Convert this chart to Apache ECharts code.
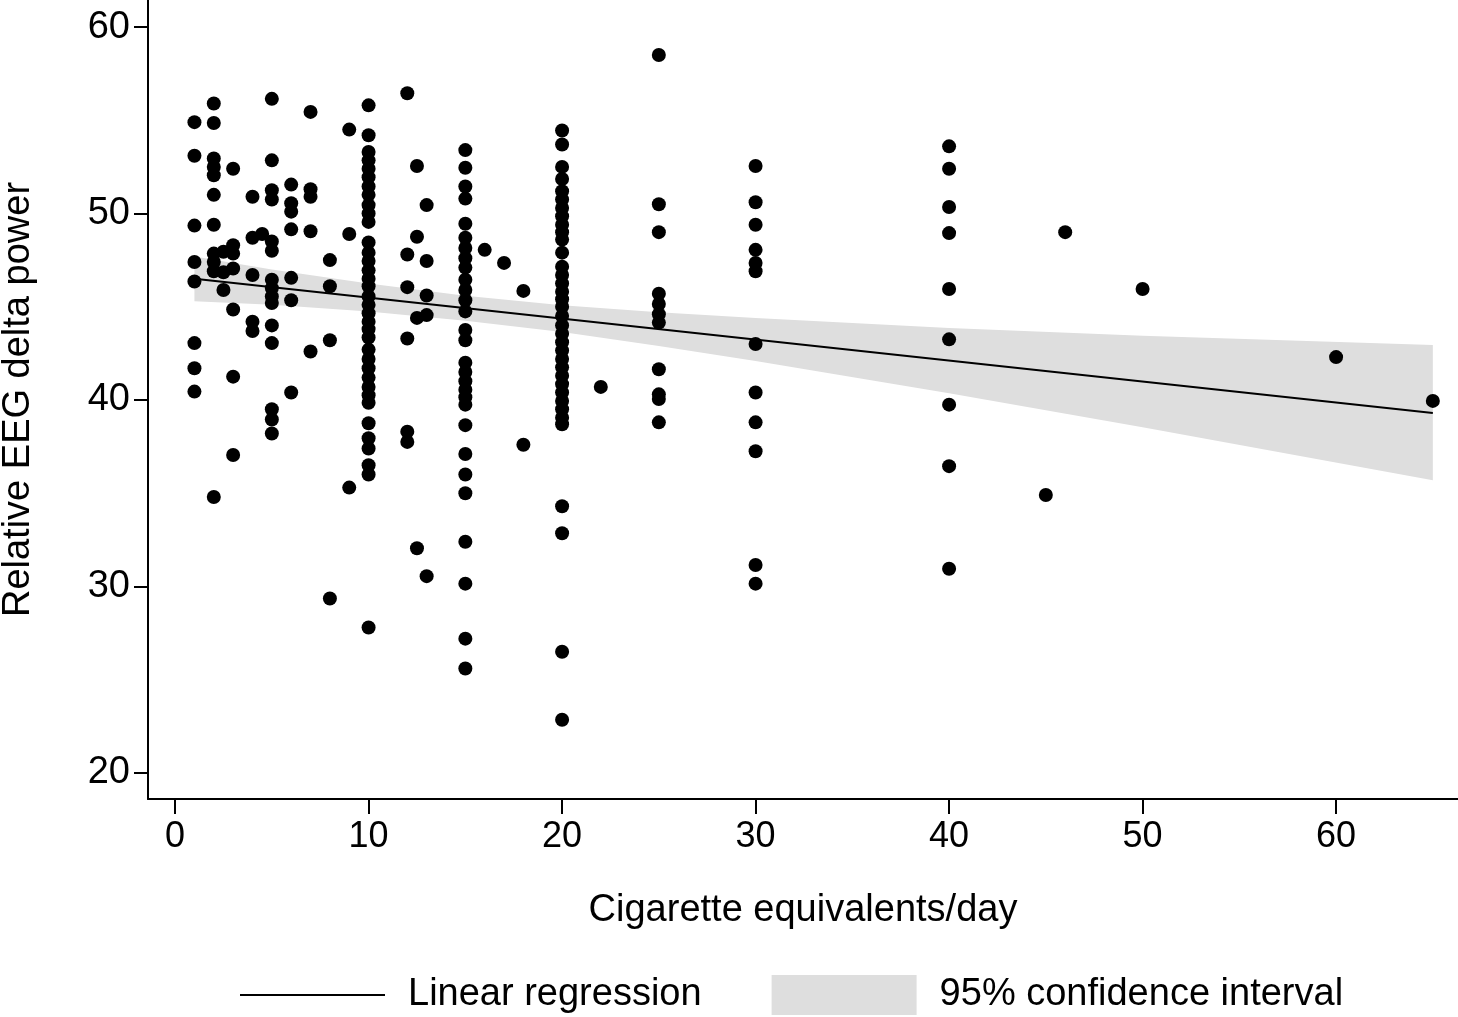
<!DOCTYPE html>
<html>
<head>
<meta charset="utf-8">
<script src="https://cdn.jsdelivr.net/npm/echarts@6/dist/echarts.min.js"></script>
<style>
  html, body { margin: 0; padding: 0; background: #fff; }
  #chart { width: 1458px; height: 1017px; }
</style>
</head>
<body>
<div id="chart"></div>
<script>
// cigarette equivalents per day (one column of dots per level)
const cigaretteLevels = [1, 2, 2.5, 3, 4, 4.5, 5, 6, 7, 8, 9, 10, 12, 12.5, 13, 15, 16, 17, 18, 20, 22, 25, 30, 40, 45, 46, 50, 60, 65];

// relative EEG delta power for each level above
const deltaByLevel = [
    [54.9, 53.1, 49.35, 47.4, 46.35, 43.05, 41.7, 40.45],
    [55.9, 54.85, 52.95, 52.5, 52.05, 51.0, 49.4, 47.85, 47.4, 46.9, 34.8],
    [47.95, 46.85, 45.9],
    [52.4, 48.3, 47.85, 47.05, 44.85, 41.25, 37.05],
    [50.9, 48.7, 46.7, 44.2, 43.7],
    [48.9],
    [56.15, 52.85, 51.25, 50.75, 48.5, 48.0, 46.45, 46.0, 45.55, 45.2, 44.0, 43.05, 39.5, 38.95, 38.2],
    [51.55, 50.55, 50.1, 49.15, 46.55, 45.35, 40.4],
    [55.45, 51.3, 50.9, 49.05, 42.6],
    [47.5, 46.1, 43.2, 29.35],
    [54.5, 48.9, 35.3],
    [55.8, 54.2, 53.3, 52.85, 52.4, 51.95, 51.45, 51.0, 50.45, 50.0, 49.55, 48.45, 47.9, 47.45, 46.95, 46.5, 46.1,
     45.55, 45.1, 44.65, 44.2, 43.8, 43.35, 42.7, 42.2, 41.7, 41.2, 40.7, 40.25, 39.85, 38.75, 37.95, 37.4, 36.5, 36.0, 27.8],
    [56.45, 47.8, 46.05, 43.3, 38.3, 37.75],
    [52.55, 48.75, 44.4, 32.05],
    [50.45, 47.45, 45.6, 44.55, 30.55],
    [53.4, 52.45, 51.45, 50.8, 49.45, 48.7, 48.15, 47.6, 47.1, 46.45, 45.9, 45.35, 44.75, 43.75, 43.2, 42.0, 41.5,
     41.0, 40.55, 40.15, 39.75, 38.65, 37.1, 36.0, 35.0, 32.4, 30.15, 27.2, 25.6],
    [48.05],
    [47.35],
    [45.85, 37.6],
    [54.45, 53.7, 52.5, 51.85, 51.2, 50.75, 50.3, 49.85, 49.4, 49.0, 48.6, 47.9, 47.15, 46.7, 46.25, 45.8, 45.4, 45.0,
     44.5, 44.0, 43.55, 43.1, 42.65, 42.2, 41.75, 41.3, 40.85, 40.4, 39.95, 39.5, 39.05, 38.7, 34.3, 32.85, 26.5, 22.85],
    [40.7],
    [58.5, 50.5, 49.0, 45.7, 45.15, 44.6, 44.15, 41.65, 40.3, 40.05, 38.8],
    [52.55, 50.6, 49.4, 48.05, 47.35, 46.9, 43.0, 40.4, 38.8, 37.25, 31.15, 30.15],
    [53.6, 52.4, 50.35, 48.95, 45.95, 43.25, 39.75, 36.45, 30.95],
    [34.9],
    [49.0],
    [45.95],
    [42.3],
    [39.95]
];

// fitted regression line (end points)
const regX = [1, 65];
const regY = [46.5, 39.3];

// 95% confidence band
const ciX = [1, 5, 10, 15, 20, 25, 30, 40, 50, 65];
const ciUpper = [47.7, 47.0, 46.24, 45.59, 45.08, 44.7, 44.39, 43.86, 43.44, 42.95];
const ciLower = [45.3, 45.1, 44.74, 44.25, 43.64, 42.9, 42.09, 40.36, 38.54, 35.7];

const xTicks = [0, 10, 20, 30, 40, 50, 60];
const yTicks = [20, 30, 40, 50, 60];

const scatterData = [];
cigaretteLevels.forEach((x, i) => {
    deltaByLevel[i].forEach(y => scatterData.push([x, y]));
});

const chart = echarts.init(document.getElementById('chart'));
const font = 'Liberation Sans, Arial, sans-serif';

const option = {
    animation: false,
    grid: { left: 148, right: 0, top: 0, bottom: 218, outerBoundsMode: 'none', containLabel: false },
    xAxis: {
        type: 'value',
        min: -1.4,
        max: 66.3,
        name: 'Cigarette equivalents/day',
        nameLocation: 'middle',
        nameGap: 93,
        nameTextStyle: { fontSize: 38, color: '#000', fontFamily: font },
        axisLine: { show: true, onZero: false, lineStyle: { color: '#000', width: 2 } },
        axisTick: { show: true, customValues: xTicks, length: 15, lineStyle: { color: '#000', width: 2 } },
        axisLabel: { customValues: xTicks, margin: 20, fontSize: 36, color: '#000', fontFamily: font },
        splitLine: { show: false }
    },
    yAxis: {
        type: 'value',
        min: 18.6,
        max: 61.45,
        name: 'Relative EEG delta power',
        nameLocation: 'middle',
        nameGap: 110,
        nameTextStyle: { fontSize: 38, color: '#000', fontFamily: font },
        axisLine: { show: true, onZero: false, lineStyle: { color: '#000', width: 2 } },
        axisTick: { show: true, customValues: yTicks, length: 14, lineStyle: { color: '#000', width: 2 } },
        axisLabel: { customValues: yTicks, margin: 18, fontSize: 38, color: '#000', fontFamily: font },
        splitLine: { show: false }
    },
    legend: {
        left: 240,
        top: 975,
        padding: 0,
        itemWidth: 145,
        itemHeight: 40,
        itemGap: 70,
        formatter: name => '{t|' + name + '}',
        textStyle: {
            color: '#000',
            fontFamily: font,
            fontSize: 38,
            rich: { t: { fontSize: 38, color: '#000', fontFamily: font, padding: [0, 0, 0, 18] } }
        },
        data: [
            { name: 'Linear regression', icon: 'path://M0,0H145V2H0Z' },
            { name: '95% confidence interval', icon: 'rect' }
        ]
    },
    series: [
        {
            name: '95% confidence interval',
            type: 'custom',
            z: 1,
            itemStyle: { color: '#dedede' },
            data: ciX.map((x, i) => [x, ciLower[i], ciUpper[i]]),
            encode: { x: 0, y: [1, 2] },
            renderItem: (params, api) => {
                if (params.dataIndex !== 0) return null;
                const top = ciX.map((x, i) => api.coord([x, ciUpper[i]]));
                const bottom = ciX.map((x, i) => api.coord([x, ciLower[i]])).reverse();
                return {
                    type: 'polygon',
                    shape: { points: top.concat(bottom) },
                    style: { fill: '#dedede' }
                };
            }
        },
        {
            name: 'points',
            type: 'scatter',
            z: 2,
            symbolSize: 14,
            itemStyle: { color: '#000', opacity: 1 },
            data: scatterData
        },
        {
            name: 'Linear regression',
            type: 'line',
            z: 3,
            symbol: 'none',
            color: '#000',
            lineStyle: { color: '#000', width: 2 },
            data: regX.map((x, i) => [x, regY[i]])
        }
    ]
};

chart.setOption(option);
</script>
</body>
</html>
